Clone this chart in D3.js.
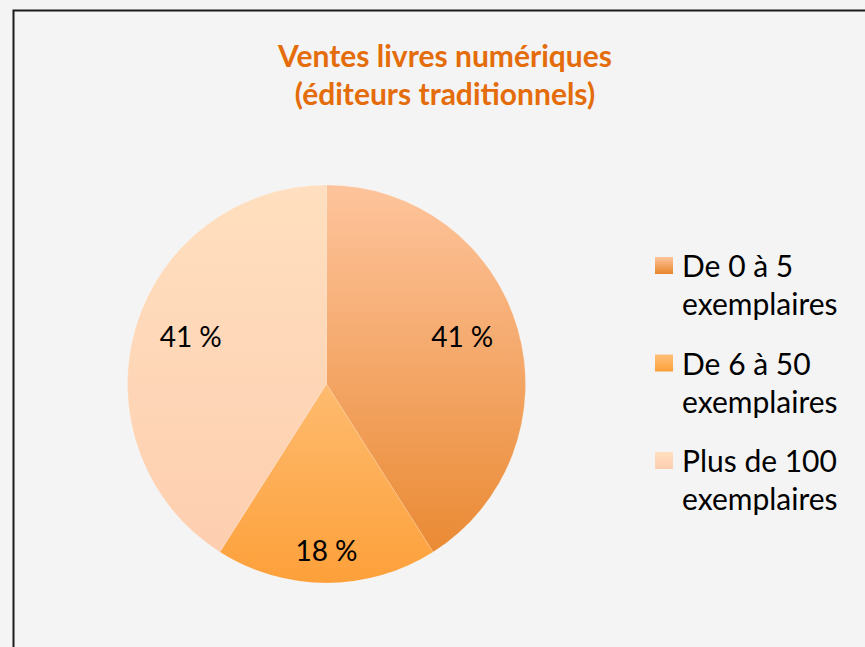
<!DOCTYPE html>
<html>
<head>
<meta charset="utf-8">
<script src="https://cdn.jsdelivr.net/npm/d3@7"></script>
<style>
  html, body { margin: 0; padding: 0; background: #f4f4f4; }
  svg { display: block; font-family: Lato, "Open Sans", sans-serif; }
</style>
</head>
<body>
<div id="chart"></div>
<script>
// data
var categories = ["De 0 à 5 exemplaires", "De 6 à 50 exemplaires", "Plus de 100 exemplaires"];
var legendLines = [["De 0 à 5", "exemplaires"], ["De 6 à 50", "exemplaires"], ["Plus de 100", "exemplaires"]];
var values = [41, 18, 41];
var labels = ["41 %", "18 %", "41 %"];
var titleLines = ["Ventes livres numériques", "(éditeurs traditionnels)"];

// gradient colours per slice: [top, bottom]
var sliceColors = [["#fec49c", "#e8852b"], ["#ffd6a4", "#fda03a"], ["#ffdfbf", "#fdcdae"]];

var width = 865, height = 647;
var cx = 326.5, cy = 384, radius = 199;

var svg = d3.select("#chart").append("svg")
    .attr("width", width)
    .attr("height", height);

svg.append("rect")
    .attr("width", width).attr("height", height)
    .attr("fill", "#f4f4f4");

// frame
svg.append("rect")
    .attr("x", 13.5).attr("y", 10.5)
    .attr("width", width + 20).attr("height", height + 20)
    .attr("fill", "#f4f4f4")
    .attr("stroke", "#1a1a1a")
    .attr("stroke-width", 2);

var defs = svg.append("defs");
sliceColors.forEach(function (c, i) {
    var g = defs.append("linearGradient")
        .attr("id", "grad" + i)
        .attr("gradientUnits", "userSpaceOnUse")
        .attr("x1", 0).attr("x2", 0)
        .attr("y1", -radius).attr("y2", radius);
    g.append("stop").attr("offset", 0).attr("stop-color", c[0]);
    g.append("stop").attr("offset", 1).attr("stop-color", c[1]);
});

// title
svg.append("g").selectAll("text")
    .data(titleLines)
  .enter().append("text")
    .attr("x", 445)
    .attr("y", function (d, i) { return 67 + i * 38; })
    .attr("text-anchor", "middle")
    .attr("fill", "#e46c0a")
    .attr("font-weight", "bold")
    .attr("font-size", 30)
    .text(function (d) { return d; });

// pie
var pie = d3.pie().sort(null).value(function (d) { return d; });
var arc = d3.arc().innerRadius(0).outerRadius(radius);
var labelArc = d3.arc().innerRadius(152).outerRadius(152);
var arcs = pie(values);

var g = svg.append("g")
    .attr("transform", "translate(" + cx + "," + cy + ")");

g.selectAll("path")
    .data(arcs)
  .enter().append("path")
    .attr("d", arc)
    .attr("fill", function (d, i) { return "url(#grad" + i + ")"; })
    .attr("stroke", "rgba(255,255,255,0.25)")
    .attr("stroke-width", 0.5);

g.selectAll("text")
    .data(arcs)
  .enter().append("text")
    .attr("transform", function (d) {
        var c = labelArc.centroid(d);
        return "translate(" + (c[0] * 0.93) + "," + (c[1] * 1.1) + ")";
    })
    .attr("text-anchor", "middle")
    .attr("dy", "0.36em")
    .attr("font-size", 28)
    .attr("fill", "#000")
    .text(function (d, i) { return labels[i]; });

// legend
sliceColors.forEach(function (c, i) {
    var lg = defs.append("linearGradient")
        .attr("id", "lg" + i)
        .attr("x1", 0).attr("x2", 0).attr("y1", 0).attr("y2", 1);
    lg.append("stop").attr("offset", 0).attr("stop-color", i === 1 ? "#ffbf78" : c[0]);
    lg.append("stop").attr("offset", 1).attr("stop-color", c[1]);
});

var legend = svg.append("g").selectAll("g")
    .data(categories)
  .enter().append("g")
    .attr("transform", function (d, i) { return "translate(655," + (257 + i * 97.5) + ")"; });

legend.append("rect")
    .attr("width", 18).attr("height", 17)
    .attr("fill", function (d, i) { return "url(#lg" + i + ")"; });

legend.selectAll("text")
    .data(function (d, i) { return legendLines[i]; })
  .enter().append("text")
    .attr("x", 27)
    .attr("y", function (d, j) { return 20 + j * 38; })
    .attr("font-size", 30)
    .attr("fill", "#000")
    .text(function (d) { return d; });
</script>
</body>
</html>
